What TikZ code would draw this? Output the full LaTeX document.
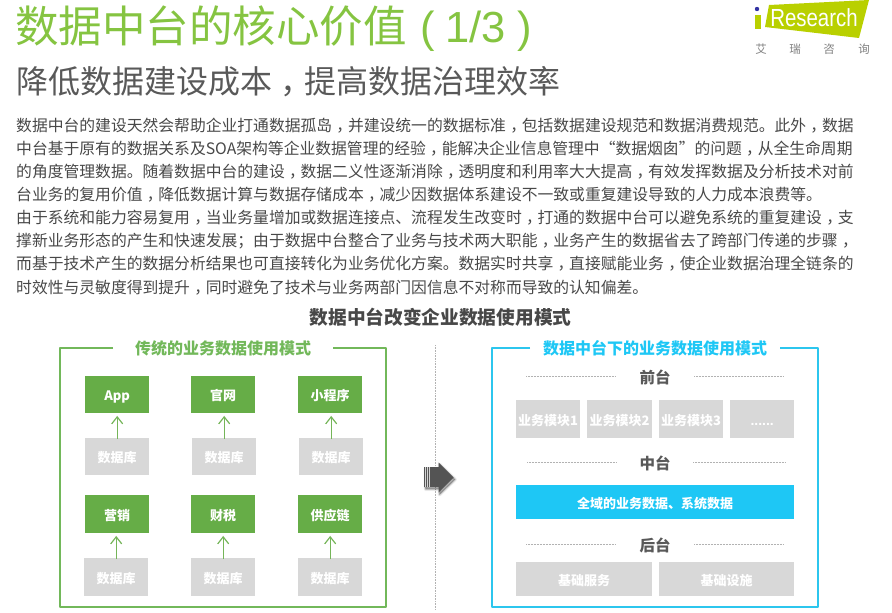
\documentclass[tikz,border=0pt]{standalone}
\usepackage{fontspec}
\setmainfont{Noto Sans CJK SC}
\newfontfamily\latinsans{Liberation Sans}
\usetikzlibrary{arrows.meta}
\definecolor{titlegreen}{HTML}{85C441}
\definecolor{boxgreen}{HTML}{66AD47}
\definecolor{framegreen}{HTML}{72B85A}
\definecolor{framecyan}{HTML}{2CC6EE}
\definecolor{barcyan}{HTML}{1EC7F5}
\definecolor{boxgray}{HTML}{D8D8D8}
\definecolor{darktext}{HTML}{484848}
\definecolor{midtext}{HTML}{595959}
\definecolor{logogreen}{HTML}{B9D000}
\XeTeXlinebreaklocale "zh"
\XeTeXlinebreakskip=0pt plus 1pt
\newcommand{\zc}{\kern.27em，\kern-.27em}
\newcommand{\lift}[1]{\raisebox{-6pt}[0pt][0pt]{#1}}
\tikzset{
  x=1pt,y=-1pt,
  bodyline/.style={anchor=west,inner sep=0pt,text=darktext,font=\fontsize{15.8}{16}\selectfont},
  box/.style={anchor=north west,inner sep=0pt,text=white,font=\fontsize{13}{14}\selectfont\bfseries,align=center},
  gbox/.style={box,fill=boxgreen},
  dbbox/.style={box,fill=boxgray,text=white},
  flowarrow/.style={-{Straight Barb[length=7pt,width=11pt]},draw=boxgreen!90!white,line width=1.2pt,shorten >=2.5pt,shorten <=-1pt},
  framepath/.style={line width=1.6pt,line join=round},
  sechead/.style={inner sep=0pt,font=\fontsize{15.5}{16}\selectfont\bfseries,text=midtext},
  rule/.style={draw=gray!60,line width=0.5pt,densely dotted},
  frametitle/.style={inner sep=0pt,font=\fontsize{16}{17}\selectfont\bfseries}
}
\newcommand{\boxat}[7]{\node[#1,minimum width=#5 pt-#3 pt,minimum height=#6 pt-#4 pt] (#2) at (#3,#4) {\lift{#7}};}
\begin{document}
\begin{tikzpicture}
\useasboundingbox (0,0) rectangle (892,613);
% titles
\node[anchor=west,inner sep=0pt,text=titlegreen,font=\fontsize{43.5}{44}\selectfont] (title) at (15,29)
  {数据中台的核心价值\hspace{14pt}{\latinsans (\hspace{10pt}1/3\hspace{12pt})}};
\node[anchor=west,inner sep=0pt,text=midtext,font=\fontsize{32}{33}\selectfont] (subtitle) at (16,82)
  {降低数据建设成本\zc 提高数据治理效率};
% logo
\fill[logogreen] (769,5) -- (869,0) -- (859,38) -- (765,27) -- cycle;
\fill[logogreen] (755,15) rectangle (761,29);
\fill[blue!55!black!80!white] (757,9) circle (2.2);
\node[inner sep=0pt,text=white,yscale=1.15,xscale=.95,font=\latinsans\fontsize{21.5}{22}\selectfont] (logotext) at (814,18) {Research};
\node[inner sep=0pt,text=gray,font=\fontsize{11.5}{12}\selectfont] (logo1) at (761,49) {艾};
\node[inner sep=0pt,text=gray,font=\fontsize{11.5}{12}\selectfont] (logo2) at (795,49) {瑞};
\node[inner sep=0pt,text=gray,font=\fontsize{11.5}{12}\selectfont] (logo3) at (829,49) {咨};
\node[inner sep=0pt,text=gray,font=\fontsize{11.5}{12}\selectfont] (logo4) at (864,49) {询};
% body
\node[bodyline] (l1) at (16,126) {\hbox to 847pt{数据中台的建设天然会帮助企业打通数据孤岛\zc 并建设统一的数据标准\zc 包括数据建设规范和数据消费规范。此外\zc 数据}};
\node[bodyline] (l2) at (16,149) {\hbox to 847pt{中台基于原有的数据关系及SOA架构等企业数据管理的经验\zc 能解决企业信息管理中“数据烟囱”的问题\zc 从全生命周期}};
\node[bodyline] (l3) at (16,172) {\hbox to 847pt{的角度管理数据。随着数据中台的建设\zc 数据二义性逐渐消除\zc 透明度和利用率大大提高\zc 有效发挥数据及分析技术对前}};
\node[bodyline] (l4) at (16,195) {台业务的复用价值\zc 降低数据计算与数据存储成本\zc 减少因数据体系建设不一致或重复建设导致的人力成本浪费等。};
\node[bodyline] (l5) at (16,218) {\hbox to 847pt{由于系统和能力容易复用\zc 当业务量增加或数据连接点、流程发生改变时\zc 打通的数据中台可以避免系统的重复建设\zc 支}};
\node[bodyline] (l6) at (16,241) {\hbox to 847pt{撑新业务形态的产生和快速发展；由于数据中台整合了业务与技术两大职能\zc 业务产生的数据省去了跨部门传递的步骤\zc}};
\node[bodyline] (l7) at (16,264) {\hbox to 847pt{而基于技术产生的数据分析结果也可直接转化为业务优化方案。数据实时共享\zc 直接赋能业务\zc 使企业数据治理全链条的}};
\node[bodyline] (l8) at (16,288) {时效性与灵敏度得到提升\zc 同时避免了技术与业务两部门因信息不对称而导致的认知偏差。};
\node[inner sep=0pt,text=darktext,font=\fontsize{18.7}{19}\selectfont\bfseries] (maintitle) at (440.5,317) {数据中台改变企业数据使用模式};
% left frame
\draw[framepath,draw=framegreen] (113,348) -- (60,348) -- (60,607) -- (386,607) -- (386,348) -- (333,348);
\node[frametitle,text=framegreen] (lefttitle) at (223,348) {传统的业务数据使用模式};
% green boxes
\boxat{gbox}{a1}{85}{376}{149}{413}{App}
\boxat{gbox}{a2}{191}{376}{255}{413}{官网}
\boxat{gbox}{a3}{298}{376}{362}{413}{小程序}
\boxat{dbbox}{b1}{85}{438}{149}{475}{数据库}
\boxat{dbbox}{b2}{192}{438}{256}{475}{数据库}
\boxat{dbbox}{b3}{299}{438}{363}{475}{数据库}
\boxat{gbox}{c1}{85}{495}{149}{533}{营销}
\boxat{gbox}{c2}{191}{495}{255}{533}{财税}
\boxat{gbox}{c3}{298}{495}{362}{533}{供应链}
\boxat{dbbox}{d1}{84}{558}{148}{596}{数据库}
\boxat{dbbox}{d2}{191}{558}{255}{596}{数据库}
\boxat{dbbox}{d3}{298}{558}{362}{596}{数据库}
\foreach \s/\t in {b1/a1,b2/a2,b3/a3,d1/c1,d2/c2,d3/c3}{
  \draw[flowarrow] (\s.north) -- (\s.north |- \t.south);
}
% divider
\coordinate (divtop) at (435,345);
\coordinate (divbot) at (435,610);
\draw[draw=gray!60,line width=0.6pt,densely dotted] (divtop) -- (divbot);
% big arrow
\foreach \d/\o in {4/0.04,3/0.06,2/0.08,1/0.12}{
  \fill[black,opacity=\o,line join=round,draw=black,line width=\d pt] (425.5,469) -- (439.5,469) -- (439.5,464.5) -- (455,479.5) -- (439.5,494.5) -- (439.5,489) -- (425.5,489) -- cycle;
}
\fill[fill=black!67] (424,467) -- (438.5,467) -- (438.5,462.5) -- (453.7,477.5) -- (438.5,492.7) -- (438.5,487) -- (424,487) -- cycle;
\foreach \x/\w in {425.5/0.6,427.2/0.8,429/0.5}{\draw[white,line width=\w pt,opacity=.75] (\x,467) -- (\x,487);}
% right frame
\draw[framepath,draw=framecyan] (530,348) -- (492,348) -- (492,607) -- (818,607) -- (818,348) -- (780,348);
\node[frametitle,text=barcyan] (righttitle) at (655,348) {数据中台下的业务数据使用模式};
% front
\node[sechead] (front) at (655,377) {前台};
\coordinate (r1a) at (526,376); \coordinate (r1b) at (616,376);
\coordinate (r1c) at (694,376); \coordinate (r1d) at (784,376);
\draw[rule] (r1a) -- (r1b); \draw[rule] (r1c) -- (r1d);
\boxat{dbbox}{m1}{516}{400}{580}{438}{业务模块1}
\boxat{dbbox}{m2}{587}{400}{652}{438}{业务模块2}
\boxat{dbbox}{m3}{659}{400}{723}{438}{业务模块3}
\boxat{dbbox}{m4}{730}{400}{794}{438}{{\latinsans\fontsize{14}{14}\selectfont ......}}
% middle
\node[sechead] (middle) at (655,463) {中台};
\coordinate (r2a) at (527,462); \coordinate (r2b) at (617,462);
\coordinate (r2c) at (693,462); \coordinate (r2d) at (785,462);
\draw[rule] (r2a) -- (r2b); \draw[rule] (r2c) -- (r2d);
\boxat{box,fill=barcyan}{bar}{516}{485}{794}{519}{全域的业务数据、系统数据}
% back
\node[sechead] (back) at (655,545) {后台};
\coordinate (r3a) at (526,544); \coordinate (r3b) at (616,544);
\coordinate (r3c) at (694,544); \coordinate (r3d) at (784,544);
\draw[rule] (r3a) -- (r3b); \draw[rule] (r3c) -- (r3d);
\boxat{dbbox}{s1}{516}{562}{652}{596}{基础服务}
\boxat{dbbox}{s2}{659}{562}{794}{596}{基础设施}
\end{tikzpicture}
\end{document}
